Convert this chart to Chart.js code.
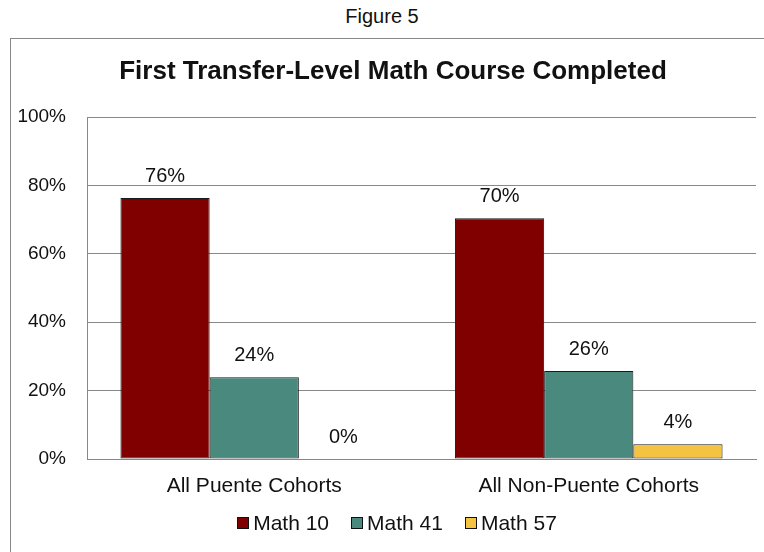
<!DOCTYPE html>
<html>
<head>
<meta charset="utf-8">
<script src="https://cdn.jsdelivr.net/npm/chart.js@4"></script>
<style>
  body { margin: 0; background: #fff; font-family: "Liberation Sans", Arial, sans-serif; color: #111; }
  #fig { position: absolute; left: 0; top: 5px; width: 764px; text-align: center; font-size: 20px; }
  #box { position: absolute; left: 10px; top: 38px; width: 800px; height: 600px; border-left: 1px solid #888; border-top: 1px solid #888; }
  #wrap { position: absolute; left: 0; top: 0; width: 764px; height: 514px; }
  #title { position: absolute; left: 10px; top: 54px; width: 766px; text-align: center; font-size: 26px; line-height: 32px; font-weight: bold; }
  #legend { position: absolute; left: 14px; top: 511px; width: 766px; display: flex; justify-content: center; font-size: 21px; line-height: 24px; }
  #legend .item { display: flex; align-items: center; margin: 0 11px; }
  #legend .swatch { width: 10px; height: 10px; border: 1px solid #111; margin-right: 4px; }
</style>
</head>
<body>
<div id="fig">Figure 5</div>
<div id="box">
  <div id="wrap"><canvas id="chart"></canvas></div>
</div>
<div id="title">First Transfer-Level Math Course Completed</div>
<div id="legend"></div>
<script>
const categories = ['All Puente Cohorts', 'All Non-Puente Cohorts'];
const seriesNames = ['Math 10', 'Math 41', 'Math 57'];
const math10 = [76.3, 70.4];
const math41 = [23.9, 25.7];
const math57 = [0, 4.3];
const labels10 = ['76%', '70%'];
const labels41 = ['24%', '26%'];
const labels57 = ['0%', '4%'];
const colors = ['#800000', '#4a8a7e', '#f5c342'];

Chart.defaults.font.family = '"Liberation Sans", Arial, sans-serif';
Chart.defaults.color = '#111';

// draws the value text above each bar
const valueLabels = {
  id: 'valueLabels',
  afterDatasetsDraw(chart) {
    const ctx = chart.ctx;
    ctx.save();
    ctx.font = '20px "Liberation Sans", Arial, sans-serif';
    ctx.fillStyle = '#111';
    ctx.textAlign = 'center';
    ctx.textBaseline = 'middle';
    chart.data.datasets.forEach((ds, i) => {
      chart.getDatasetMeta(i).data.forEach((bar, j) => {
        ctx.fillText(ds.valueText[j], bar.x, bar.y - 22);
      });
    });
    ctx.restore();
  }
};

const chart = new Chart(document.getElementById('chart'), {
  type: 'bar',
  data: {
    labels: categories,
    datasets: [
      { label: seriesNames[0], data: math10, valueText: labels10, backgroundColor: colors[0] },
      { label: seriesNames[1], data: math41, valueText: labels41, backgroundColor: colors[1] },
      { label: seriesNames[2], data: math57, valueText: labels57, backgroundColor: colors[2] }
    ]
  },
  options: {
    responsive: true,
    maintainAspectRatio: false,
    animation: false,
    datasets: {
      bar: { categoryPercentage: 0.8, barPercentage: 1, borderColor: '#1a1a1a', borderWidth: 1, borderSkipped: false }
    },
    layout: { padding: { left: 0, right: 19, top: 78, bottom: 54 } },
    plugins: {
      title: { display: false },
      legend: { display: false },
      tooltip: { enabled: false }
    },
    scales: {
      x: {
        afterFit(scale) { scale.height = 40; },
        grid: { display: false },
        border: { color: '#888' },
        ticks: { font: { size: 21 }, color: '#111', padding: 7 }
      },
      y: {
        min: 0,
        max: 100,
        afterFit(scale) { scale.width = 76; },
        grid: { color: '#888', drawTicks: false },
        border: { color: '#888' },
        ticks: { stepSize: 20, font: { size: 19 }, color: '#111', padding: 21, callback: v => v + '%' }
      }
    }
  },
  plugins: [valueLabels]
});

// legend built from the dataset names and colours
const legend = document.getElementById('legend');
chart.data.datasets.forEach(ds => {
  const item = document.createElement('span');
  item.className = 'item';
  const sw = document.createElement('span');
  sw.className = 'swatch';
  sw.style.background = ds.backgroundColor;
  item.appendChild(sw);
  item.appendChild(document.createTextNode(ds.label));
  legend.appendChild(item);
});
</script>
</body>
</html>
